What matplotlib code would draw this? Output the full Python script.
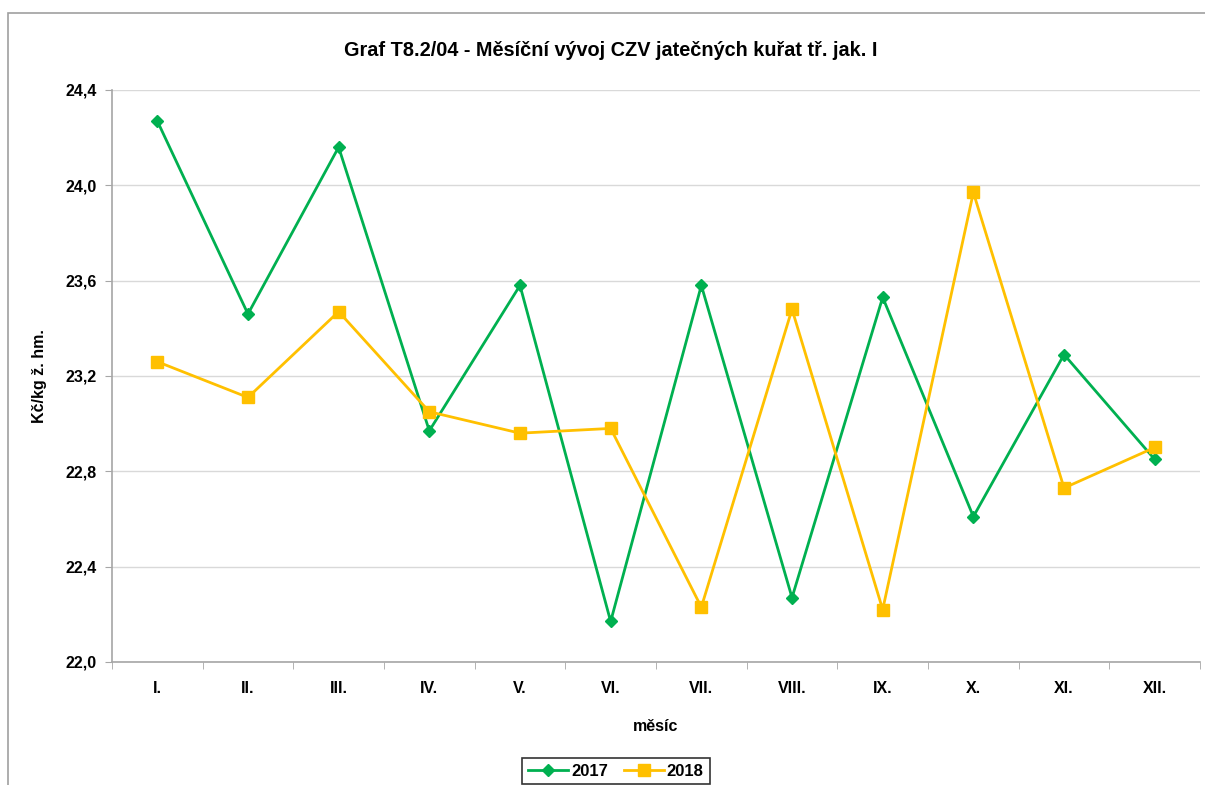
import numpy as np
import matplotlib.pyplot as plt
from matplotlib.patches import Rectangle

# data
mesice = ['I.', 'II.', 'III.', 'IV.', 'V.', 'VI.', 'VII.', 'VIII.', 'IX.', 'X.', 'XI.', 'XII.']
czv_2017 = [24.27, 23.46, 24.16, 22.97, 23.58, 22.17, 23.58, 22.27, 23.53, 22.61, 23.29, 22.85]
czv_2018 = [23.26, 23.11, 23.47, 23.05, 22.96, 22.98, 22.23, 23.48, 22.22, 23.97, 22.73, 22.90]
y_ticks = [22.0, 22.4, 22.8, 23.2, 23.6, 24.0, 24.4]

plt.rcParams['font.family'] = ['Liberation Sans', 'DejaVu Sans']

fig = plt.figure(figsize=(12.05, 7.85), dpi=100)
ax = fig.add_axes([0.0929, 0.1567, 0.9030, 0.7287])

# ramecek grafu
fig.patches.append(Rectangle((8 / 1205, -0.01), 1.02, 1 - 13 / 785 + 0.01,
                             transform=fig.transFigure, fill=False,
                             edgecolor='#a0a0a0', linewidth=1.2))

x = np.arange(len(mesice))
ax.plot(x, czv_2017, color='#00b050', marker='D', markersize=6, linewidth=2, label='2017')
ax.plot(x, czv_2018, color='#ffc000', marker='s', markersize=8, linewidth=2, label='2018')

ax.set_xlim(-0.5, len(mesice) - 0.5)
ax.set_ylim(22.0, 24.4)
ax.set_yticks(y_ticks)
ax.set_yticklabels([('%.1f' % v).replace('.', ',') for v in y_ticks],
                   fontsize=11.5, fontweight='bold')
ax.set_xticks(x)
ax.set_xticklabels(mesice, fontsize=11.5, fontweight='bold')
ax.set_xticks(np.arange(-0.5, len(mesice)), minor=True)
ax.tick_params(axis='x', which='major', length=0, pad=14)
ax.tick_params(axis='x', which='minor', length=5, color='#a6a6a6')
ax.tick_params(axis='y', length=5, color='#a6a6a6', pad=6)

ax.grid(axis='y', color='#d9d9d9', linewidth=1)
ax.set_axisbelow(True)
for s in ['top', 'right']:
    ax.spines[s].set_visible(False)
for s in ['left', 'bottom']:
    ax.spines[s].set_color('#a6a6a6')
    ax.spines[s].set_linewidth(1.2)

fig.text(611 / 1205, 1 - 50 / 785,
         'Graf T8.2/04 - Měsíční vývoj CZV jatečných kuřat tř. jak. I',
         fontsize=14.3, fontweight='bold', ha='center', va='center')
ax.set_xlabel('měsíc', fontsize=11.5, fontweight='bold', labelpad=16)
ax.set_ylabel('Kč/kg ž. hm.', fontsize=11.5, fontweight='bold', labelpad=13)

leg = fig.legend(loc='center', bbox_to_anchor=(616 / 1205, 1 - 771 / 785), ncol=2,
                 prop={'weight': 'bold', 'size': 12},
                 frameon=True, fancybox=False, handlelength=2.4, columnspacing=0.9,
                 borderpad=0.35, handletextpad=0.2)
leg.get_frame().set_edgecolor('black')
leg.get_frame().set_linewidth(1.2)

plt.savefig('out.png', dpi=100)
